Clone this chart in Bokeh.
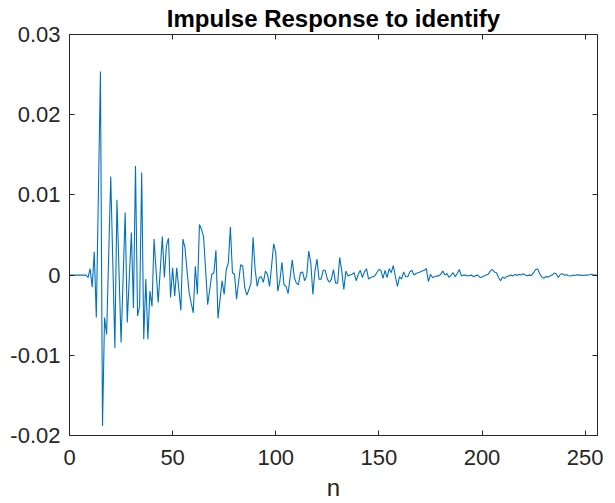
from bokeh.plotting import figure
from bokeh.models import LinearAxis, FixedTicker, CustomJSTickFormatter, Range1d
from bokeh.embed import file_html
from bokeh.resources import INLINE

TITLE = "Impulse Response to identify"
X_LABEL = "n"
X_TICKS = [0, 50, 100, 150, 200, 250]
Y_TICKS = [-0.02, -0.01, 0, 0.01, 0.02, 0.03]
Y_TICK_LABELS = ["-0.02", "-0.01", "0", "0.01", "0.02", "0.03"]

n = list(range(0, 257))
h = [
    0, 0, 0, 0, 0, 0, 0, 0, 0,
    -0.0003, 0.0008, -0.0015, 0.0029, -0.0053, 0.0100, 0.0254, -0.0188, -0.0053, -0.0074,
    0.0025, 0.0123, 0.0015, -0.0091, 0.0094, 0.0005, -0.0084, -0.0003, 0.0078, -0.0059,
    -0.0003, 0.0053, -0.0041, 0.0136, -0.0051, -0.0039, 0.0128, -0.0080, -0.0005, -0.0080,
    -0.0020, -0.0039, 0.0045, 0.0005, -0.0034, 0.0006, 0.0048, -0.0003, 0.0037, 0.0046,
    -0.0028, 0.0009, -0.0026, 0.0009, -0.0018, -0.0044, 0.0045, 0.0034, 0.0005, -0.0022,
    -0.0035, -0.0047, 0.0011, -0.0024, 0.0063, 0.0057, 0.0048, 0.0006, -0.0037, -0.0018,
    0.0001, 0.0003, 0.0031, -0.0054, -0.0030, -0.0007, -0.0024, 0.0007, 0.0015, 0.0060,
    0.0003, 0.0001, -0.0030, -0.0008, 0.0013, 0.0011, -0.0016, -0.0025, -0.0018, -0.0010,
    0.0047, 0.0007, -0.0014, -0.0003, -0.0002, -0.0009, 0.0005, 0.0001, -0.0014, 0.0012,
    0.0039, 0.0028, -0.0020, -0.0007, 0.0016, -0.0012, -0.0014, -0.0023, -0.0002, 0.0019,
    -0.0003, -0.0010, -0.0012, 0.0003, 0.0004, -0.0007, -0.0001, 0.0030, 0.0015, -0.0024,
    0.0005, 0.0020, -0.0005, -0.0005, 0.0006, 0.0006, -0.0005, -0.0009, -0.0005, 0.0007,
    -0.0010, -0.0010, 0.0022, 0.0005, -0.0018, 0.0005, -0.0001, 0.0000, 0.0001, 0.0003,
    -0.0007, 0.0001, 0.0006, -0.0003, 0.0004, 0.0008, -0.0005, -0.0003, -0.0002, -0.0001,
    0.0003, 0.0007, 0.0006, -0.0004, 0.0006, -0.0003, 0.0008, 0.0003, 0.0012, -0.0002,
    -0.0014, -0.0002, -0.0005, 0.0004, -0.0002, -0.0002, 0.0004, 0.0006, 0.0000, 0.0002,
    0.0003, 0.0004, 0.0005, 0.0006, 0.0008, -0.0008, 0.0001, -0.0003, -0.0002, -0.0001,
    -0.0001, 0.0001, 0.0005, 0.0000, 0.0002, -0.0003, 0.0000, 0.0003, -0.0002, 0.0002,
    0.0007, -0.0001, 0.0000, 0.0000, -0.00012, -0.00004, 0.0000, -0.0002, -0.00004, 0.0000,
    -0.0003, -0.00025, -0.0001, 0.0000, 0.0001, 0.0005, 0.0007, 0.0004, 0.0003, -0.0003,
    -0.0007, -0.00025, -0.0004, -0.00017, -0.0001, 0.0000, -0.00012, 0.0001, -0.00004, 0.0001,
    0.0000, 0.00017, 0.0000, -0.00008, 0.0000, -0.00004, 0.0003, 0.0007, 0.00075, 0.00017,
    -0.00025, -0.0004, -0.00017, -0.00025, -0.00012, 0.0000, 0.00025, 0.00017, -0.0003, 0.0001,
    0.00017, 0.0000, 0.00004, -0.00008, -0.00012, 0.0000, -0.00004, 0.00004, 0.0000, 0.0000,
    -0.00004, 0.0000, 0.0000, 0.00004, 0.0001, 0.0000, 0.0000, 0.0000,
]
n = n[:len(h)]

AX = "#262626"
FONT = "Liberation Sans"

p = figure(width=607, height=503, output_backend="svg", toolbar_location=None,
           x_range=Range1d(0, 256), y_range=Range1d(-0.02, 0.03),
           title=TITLE, min_border_left=69, min_border_right=10,
           min_border_top=34, min_border_bottom=67)
p.title.text_font = FONT
p.title.text_font_size = "24px"
p.title.text_font_style = "bold"
p.title.align = "center"
p.title.text_color = "#000000"
p.title.standoff = 5

p.line(n, h, line_color="#0072BD", line_width=1.1)

p.xgrid.visible = False
p.ygrid.visible = False
p.outline_line_color = None

yfmt = CustomJSTickFormatter(args=dict(vals=Y_TICKS, labels=Y_TICK_LABELS), code="""
for (let j = 0; j < vals.length; j++) { if (Math.abs(vals[j] - tick) < 1e-9) return labels[j]; }
return String(tick);
""")
blank = CustomJSTickFormatter(code="return '';")

def style(ax, show_labels):
    ax.axis_line_color = AX
    ax.axis_line_width = 1
    ax.major_tick_line_color = AX
    ax.major_tick_in = 5
    ax.major_tick_out = 0
    ax.minor_tick_line_color = None
    ax.major_label_text_color = AX
    ax.major_label_text_font = FONT
    if show_labels:
        ax.major_label_text_font_size = "22px"
    else:
        ax.formatter = blank
        ax.major_label_text_font_size = "1px"
        ax.major_label_standoff = 0

xa = p.xaxis[0]
xa.ticker = FixedTicker(ticks=X_TICKS)
style(xa, True)
xa.major_label_standoff = 14
xa.axis_label = X_LABEL
xa.axis_label_text_font = FONT
xa.axis_label_text_font_size = "24px"
xa.axis_label_text_font_style = "normal"
xa.axis_label_text_color = AX
xa.axis_label_standoff = 6

ya = p.yaxis[0]
ya.ticker = FixedTicker(ticks=Y_TICKS)
ya.formatter = yfmt
style(ya, True)
ya.major_label_standoff = 9

top = LinearAxis(ticker=FixedTicker(ticks=X_TICKS))
style(top, False)
p.add_layout(top, "above")
right = LinearAxis(ticker=FixedTicker(ticks=Y_TICKS))
style(right, False)
p.add_layout(right, "right")

open("out.html", "w").write(file_html(p, INLINE))
